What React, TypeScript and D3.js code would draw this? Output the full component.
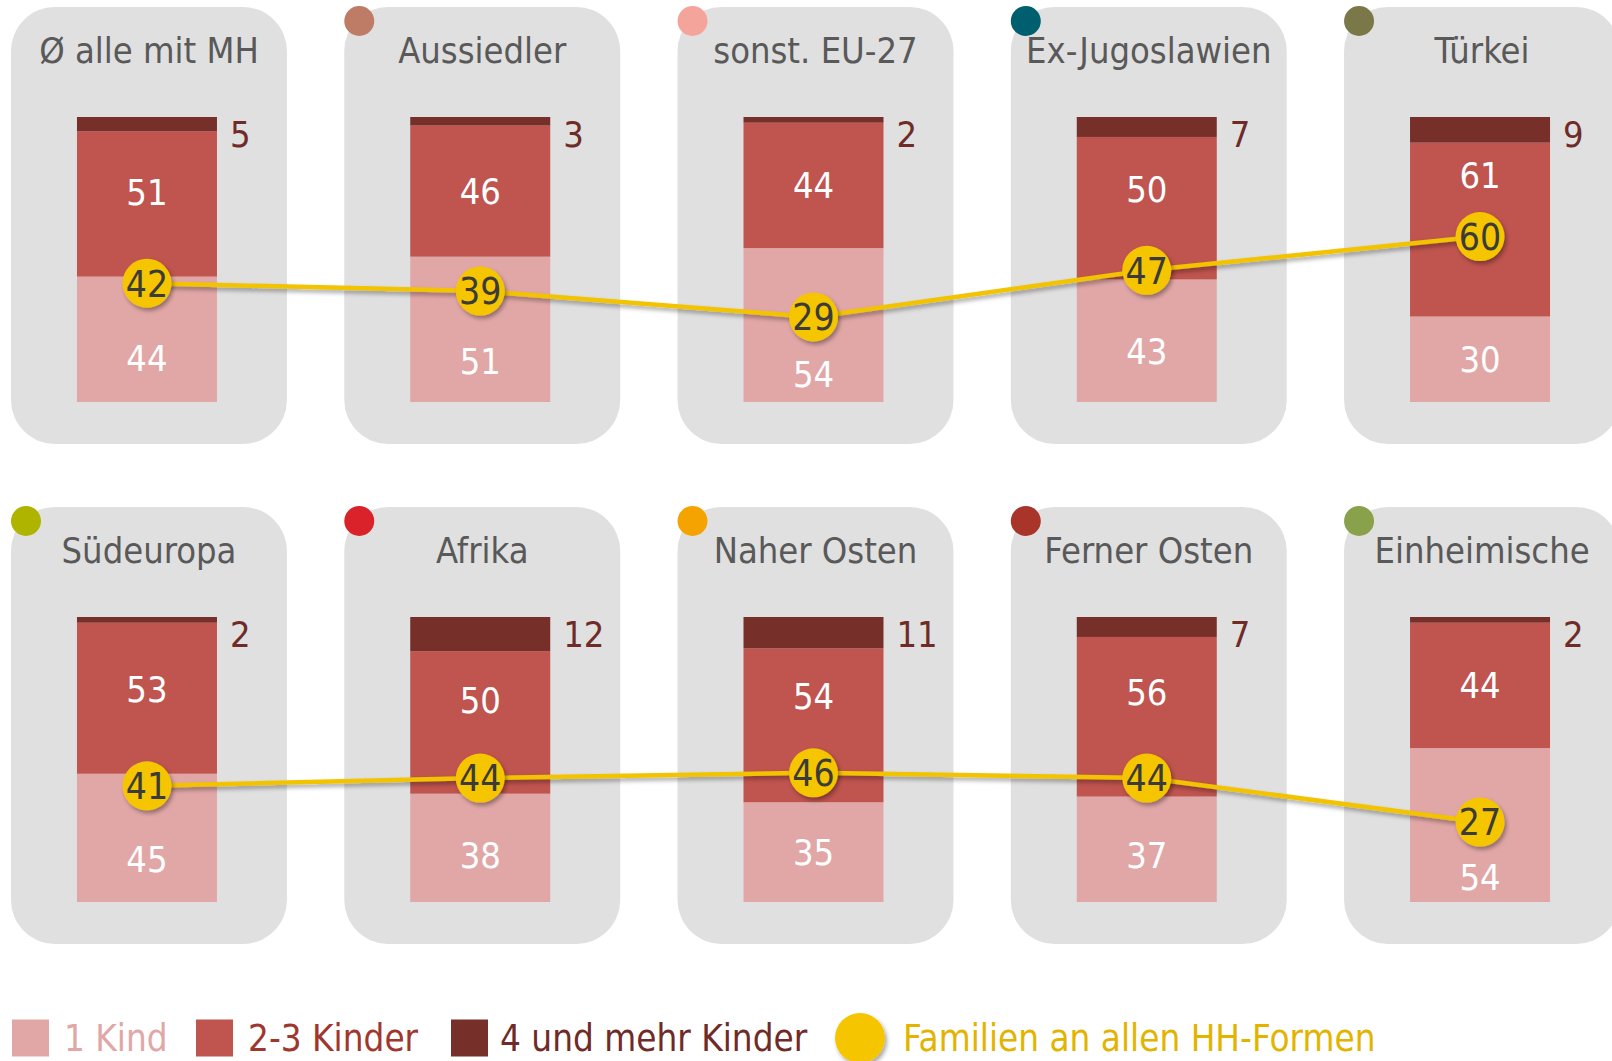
import React, { useEffect } from "react";
import * as d3 from "d3";

// ---- data ----
const categories = [
  "Ø alle mit MH",
  "Aussiedler",
  "sonst. EU-27",
  "Ex-Jugoslawien",
  "Türkei",
  "Südeuropa",
  "Afrika",
  "Naher Osten",
  "Ferner Osten",
  "Einheimische",
];
const oneChild = [44, 51, 54, 43, 30, 45, 38, 35, 37, 54];
const twoToThree = [51, 46, 44, 50, 61, 53, 50, 54, 56, 44];
const fourPlus = [5, 3, 2, 7, 9, 2, 12, 11, 7, 2];
const familyShare = [42, 39, 29, 47, 60, 41, 44, 46, 44, 27];
const markerColors = [
  null,
  "#BE7B66",
  "#F4A49B",
  "#005F6E",
  "#7A7748",
  "#AEB400",
  "#D9222A",
  "#F5A300",
  "#A8342A",
  "#88A14A",
];
const legendLabels = ["1 Kind", "2-3 Kinder", "4 und mehr Kinder", "Familien an allen HH-Formen"];

// ---- style ----
const W = 1612;
const H = 1061;
const FONT = "'DejaVu Sans Condensed', 'DejaVu Sans', sans-serif";
const C_LIGHT = "#E1A7A6";
const C_MID = "#C0544F";
const C_DARK = "#772F2A";
const C_PANEL = "#E0E0E0";
const C_YELLOW = "#F5C500";
const C_LINE = "#F2C300";

const seriesKeys = ["one", "two", "four"];
const seriesColors: Record<string, string> = { one: C_LIGHT, two: C_MID, four: C_DARK };

function labelCenter(segTop: number, segBot: number, cy: number, half: number) {
  const zTop = cy - half;
  const zBot = cy + half;
  if (zBot <= segTop || zTop >= segBot) return (segTop + segBot) / 2;
  const a: [number, number] = [segTop, Math.min(segBot, zTop)];
  const b: [number, number] = [Math.max(segTop, zBot), segBot];
  const la = a[1] - a[0];
  const lb = b[1] - b[0];
  const best = la >= lb ? a : b;
  return (best[0] + best[1]) / 2;
}

export default function App() {
  useEffect(() => {
    document.body.style.margin = "0";
  }, []);

  const cols = 5;
  const xBand = d3
    .scaleBand<number>()
    .domain(d3.range(cols))
    .range([11, 1620])
    .paddingInner(0.172)
    .paddingOuter(0);
  const panelW = xBand.bandwidth();
  const rowTops = [7, 507];
  const panelH = 437;
  const barW = 140;
  const barShift = -2;

  const rows = categories.map((c, i) => ({
    cat: c,
    one: oneChild[i],
    two: twoToThree[i],
    four: fourPlus[i],
    fam: familyShare[i],
    color: markerColors[i],
  }));
  const stacked = d3.stack<any>().keys(seriesKeys)(rows);

  const lineGen = d3.line<[number, number]>();

  const rowEls = [0, 1].map((r) => {
    const top = rowTops[r];
    const yBar = d3.scaleLinear().domain([0, 100]).range([top + 395, top + 110]);
    const yLine = d3.scaleLinear().domain([0, 100]).range([top + 385, top + 126]);
    const idxs = d3.range(r * cols, r * cols + cols);
    const pts: [number, number][] = idxs.map((i) => {
      const c = i - r * cols;
      return [(xBand(c) as number) + panelW / 2 + barShift, yLine(rows[i].fam)];
    });

    return (
      <g key={r}>
        {idxs.map((i) => {
          const c = i - r * cols;
          const px = xBand(c) as number;
          const pcx = px + panelW / 2;
          const cx = pcx + barShift;
          const bx = cx - barW / 2;
          const cy = yLine(rows[i].fam);
          return (
            <g key={i}>
              <rect x={px} y={top} width={panelW} height={panelH} rx={44} ry={44} fill={C_PANEL} />
              {rows[i].color && <circle cx={px + 15} cy={top + 14} r={15} fill={rows[i].color as string} />}
              <text
                x={pcx}
                y={top + 56}
                textAnchor="middle"
                fontFamily={FONT}
                fontSize={36}
                fill="#595959"
              >
                {rows[i].cat}
              </text>
              {stacked.map((s) => {
                const d = s[i];
                const y0 = yBar(d[1]);
                const y1 = yBar(d[0]);
                return (
                  <rect
                    key={s.key}
                    x={bx}
                    y={y0}
                    width={barW}
                    height={y1 - y0}
                    fill={seriesColors[s.key]}
                  />
                );
              })}
              {stacked.map((s) => {
                const d = s[i];
                const y0 = yBar(d[1]);
                const y1 = yBar(d[0]);
                const v = d[1] - d[0];
                if (s.key === "four") {
                  return (
                    <text
                      key={"l" + s.key}
                      x={bx + barW + 13}
                      y={y0 + 30}
                      fontFamily={FONT}
                      fontSize={36}
                      fill="#6E2B27"
                    >
                      {v}
                    </text>
                  );
                }
                const ly = labelCenter(y0, y1, cy, 30);
                return (
                  <text
                    key={"l" + s.key}
                    x={cx}
                    y={ly + 13}
                    textAnchor="middle"
                    fontFamily={FONT}
                    fontSize={36}
                    fill="#FFFFFF"
                  >
                    {v}
                  </text>
                );
              })}
            </g>
          );
        })}
        <path
          d={lineGen(pts) as string}
          fill="none"
          stroke={C_LINE}
          strokeWidth={4.5}
          filter="url(#shadow)"
        />
        {idxs.map((i, k) => (
          <g key={"c" + i}>
            <circle cx={pts[k][0]} cy={pts[k][1]} r={24.5} fill={C_YELLOW} filter="url(#shadow)" />
            <text
              x={pts[k][0]}
              y={pts[k][1] + 13.3}
              textAnchor="middle"
              fontFamily={FONT}
              fontSize={37}
              fill="#3B3B3B"
            >
              {rows[i].fam}
            </text>
          </g>
        ))}
      </g>
    );
  });

  const legY = 1038;
  const legFs = 36.5;
  const legBase = legY + 0.3645 * legFs;

  return (
    <svg
      width={W}
      height={H}
      viewBox={`0 0 ${W} ${H}`}
      style={{ position: "absolute", left: 0, top: 0, display: "block" }}
    >
      <defs>
        <filter id="shadow" filterUnits="userSpaceOnUse" x={0} y={0} width={W} height={H}>
          <feDropShadow dx={2} dy={3} stdDeviation={2} floodColor="#000" floodOpacity={0.35} />
        </filter>
      </defs>
      <rect x={0} y={0} width={W} height={H} fill="#FFFFFF" />
      {rowEls}
      {/* legend */}
      <rect x={12} y={legY - 18.5} width={37} height={37} fill={C_LIGHT} />
      <text x={64} y={legBase} fontFamily={FONT} fontSize={legFs} fill={C_LIGHT}>
        {legendLabels[0]}
      </text>
      <rect x={196} y={legY - 18.5} width={37} height={37} fill={C_MID} />
      <text x={248} y={legBase} fontFamily={FONT} fontSize={legFs} fill="#A0372F">
        {legendLabels[1]}
      </text>
      <rect x={451} y={legY - 18.5} width={37} height={37} fill={C_DARK} />
      <text x={500} y={legBase} fontFamily={FONT} fontSize={legFs} fill="#6E2B27">
        {legendLabels[2]}
      </text>
      <circle cx={860} cy={legY} r={25} fill={C_YELLOW} filter="url(#shadow)" />
      <text x={903} y={legBase} fontFamily={FONT} fontSize={legFs} fill="#E2B400">
        {legendLabels[3]}
      </text>
    </svg>
  );
}
